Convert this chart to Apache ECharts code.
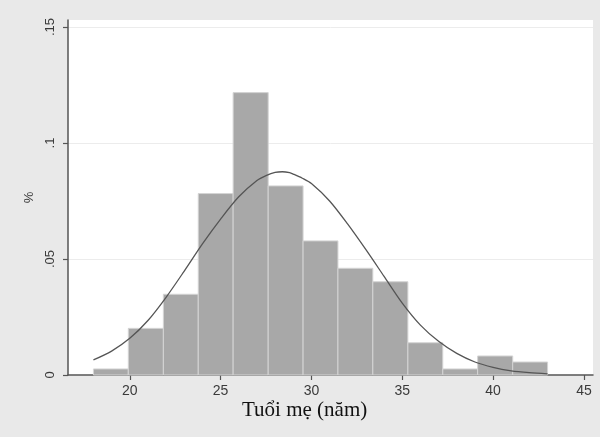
<!DOCTYPE html>
<html><head><meta charset="utf-8">
<script src="https://cdn.jsdelivr.net/npm/echarts@6/dist/echarts.min.js"></script>
<style>html,body{margin:0;padding:0;background:#fff}#c{width:600px;height:437px}</style>
</head><body><div id="c"></div>
<script>
// Histogram bins (edges) and densities
const binEdges = [18, 19.92, 21.85, 23.77, 25.69, 27.62, 29.54, 31.46, 33.38, 35.31, 37.23, 39.15, 41.08, 43];
const binDensity = [0.0026, 0.0201, 0.0348, 0.0782, 0.1217, 0.0815, 0.0578, 0.046, 0.0402, 0.0139, 0.0026, 0.0082, 0.0056];
// Normal curve points
const curveX = [18, 19, 20, 21, 22, 23, 24, 25, 26, 27, 27.5, 28, 28.4, 28.8, 29, 29.5, 30, 31, 32, 33, 34, 35, 36, 37, 38, 39, 40, 41, 42, 43];
const curveY = [0.0065, 0.0103, 0.0158, 0.0235, 0.0335, 0.0448, 0.0565, 0.0672, 0.0768, 0.0838, 0.0859, 0.0873, 0.0876, 0.0872, 0.0866, 0.0848, 0.0825, 0.075, 0.065, 0.054, 0.0425, 0.031, 0.0215, 0.0145, 0.0093, 0.0056, 0.0033, 0.0018, 0.001, 0.0005];
const xTicks = [20, 25, 30, 35, 40, 45];
const yTicks = [0, 0.05, 0.1, 0.15];
const yTickLabels = ['0', '.05', '.1', '.15'];
const xTitle = 'Tuổi mẹ (năm)';
const yTitle = '%';

const barData = binDensity.map((d, i) => [binEdges[i], binEdges[i + 1], d]);
const lineData = curveX.map((x, i) => [x, curveY[i]]);

const chart = echarts.init(document.getElementById('c'), null, {renderer: 'canvas'});
chart.setOption({
  backgroundColor: '#e9e9e9',
  animation: false,
  grid: {left: 68, right: 7, top: 20, bottom: 62, show: true, backgroundColor: '#ffffff', borderWidth: 0},
  xAxis: {
    type: 'value', min: 16.6, max: 45.5,
    axisLine: {show: true, onZero: false, lineStyle: {color: '#555', width: 1.5}},
    axisTick: {show: true, length: 5, customValues: xTicks, lineStyle: {color: '#555', width: 1.2}},
    axisLabel: {customValues: xTicks, color: '#3a3a3a', fontSize: 14, fontFamily: 'Liberation Sans', margin: 9},
    splitLine: {show: false}
  },
  yAxis: {
    type: 'value', min: 0, max: 0.153,
    name: yTitle, nameLocation: 'middle', nameRotate: 90, nameGap: 27,
    nameTextStyle: {color: '#3a3a3a', fontSize: 13, fontFamily: 'Liberation Sans'},
    axisLine: {show: true, lineStyle: {color: '#555', width: 1.5}},
    axisTick: {show: true, length: 5, customValues: yTicks, lineStyle: {color: '#555', width: 1.2}},
    axisLabel: {customValues: yTicks, rotate: 90, color: '#3a3a3a', fontSize: 13, fontFamily: 'Liberation Sans', margin: 11,
      formatter: v => { const i = yTicks.findIndex(t => Math.abs(t - v) < 1e-9); return i >= 0 ? yTickLabels[i] : ''; }},
    splitLine: {show: true, lineStyle: {color: '#ececec', width: 1}}
  },
  graphic: [{
    type: 'text', left: 242, top: 400,
    style: {text: xTitle, fill: '#111', font: '21px "Liberation Serif"'}
  }],
  series: [
    {
      type: 'custom',
      data: barData,
      encode: {x: [0, 1], y: 2},
      renderItem: (params, api) => {
        const p0 = api.coord([api.value(0), api.value(2)]);
        const p1 = api.coord([api.value(1), 0]);
        return {
          type: 'rect',
          shape: {x: p0[0], y: p0[1], width: p1[0] - p0[0], height: p1[1] - p0[1]},
          style: {fill: '#a8a8a8', stroke: '#d4d4d4', lineWidth: 1}
        };
      },
      z: 2
    },
    {
      type: 'line', data: lineData, smooth: 0.3, symbol: 'none',
      lineStyle: {color: '#555', width: 1.3}, z: 3
    }
  ]
});
</script></body></html>
